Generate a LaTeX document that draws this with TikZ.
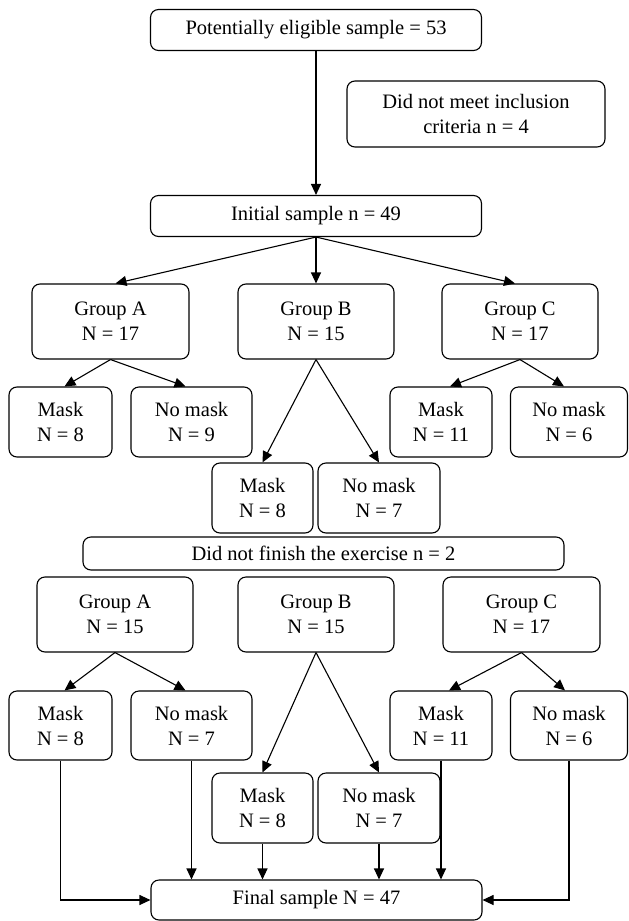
\documentclass[tikz,border=0pt]{standalone}
\usepackage{fontspec}
\setmainfont{Liberation Serif}
\usetikzlibrary{arrows.meta}
\begin{document}
\begin{tikzpicture}[x=1pt,y=-1pt,
  box/.style={draw=black,line width=1.1pt,rounded corners=8pt,align=center,
    inner sep=0pt,font=\fontsize{20.5}{25}\selectfont},
  arr/.style={line width=1.1pt,-{Triangle[length=11pt,width=10pt]}},
  ln/.style={line width=1pt}]
\useasboundingbox (0,0) rectangle (629,921);
\newcommand{\bx}[5]{\node[box,minimum width=#3pt,minimum height=#4pt] (#1) at (#2) {#5};}
\bx{top}{316,30}{331}{41}{Potentially eligible sample = 53}
\bx{excl}{476,114}{258}{66}{Did not meet inclusion\\criteria n = 4}
\bx{init}{316,216}{331}{41}{Initial sample n = 49}
\bx{gA}{110.5,321.5}{157}{75}{Group A\\N = 17}
\bx{gB}{316,321.5}{156}{75}{Group B\\N = 15}
\bx{gC}{520,321.5}{156}{75}{Group C\\N = 17}
\bx{mA}{60.5,422}{103}{70}{Mask\\N = 8}
\bx{nA}{191.5,422}{121}{70}{No mask\\N = 9}
\bx{mC}{441,422}{102}{70}{Mask\\N = 11}
\bx{nC}{569,422}{117}{70}{No mask\\N = 6}
\bx{mB}{262.5,498}{101}{70}{Mask\\N = 8}
\bx{nB}{379,498}{122}{70}{No mask\\N = 7}
\bx{dnf}{323.5,553.5}{481}{33}{Did not finish the exercise n = 2}
\bx{gA2}{115,614.5}{156}{75}{Group A\\N = 15}
\bx{gB2}{316,614.5}{156}{75}{Group B\\N = 15}
\bx{gC2}{521.5,614.5}{157}{75}{Group C\\N = 17}
\bx{mA2}{60.5,725.5}{103}{69}{Mask\\N = 8}
\bx{nA2}{191.5,725.5}{121}{69}{No mask\\N = 7}
\bx{mC2}{441,725.5}{102}{69}{Mask\\N = 11}
\bx{nC2}{569,725.5}{117}{69}{No mask\\N = 6}
\bx{mB2}{262.5,808}{101}{70}{Mask\\N = 8}
\bx{nB2}{379,808}{122}{70}{No mask\\N = 7}
\bx{fin}{316.5,900}{331}{40}{Final sample N = 47}
% arrows
\draw[arr] (top) -- (init);
\draw[arr] (init.south) -- ([xshift=5pt]gA.north);
\draw[arr] (init.south) -- (gB.north);
\draw[arr] (init.south) -- ([xshift=-5pt]gC.north);
\draw[arr] (gA.south) -- ([xshift=4pt]mA.north);
\draw[arr] (gA.south) -- ([xshift=-6pt]nA.north);
\draw[arr] (gB.south) -- (mB.north);
\draw[arr] (gB.south) -- (nB.north);
\draw[arr] (gC.south) -- ([xshift=9pt]mC.north);
\draw[arr] (gC.south) -- ([xshift=-5pt]nC.north);
\draw[arr] (gA2.south) -- ([xshift=4pt]mA2.north);
\draw[arr] (gA2.south) -- ([xshift=-6pt]nA2.north);
\draw[arr] (gB2.south) -- (mB2.north);
\draw[arr] (gB2.south) -- (nB2.north);
\draw[arr] (gC2.south) -- ([xshift=8pt]mC2.north);
\draw[arr] (gC2.south) -- ([xshift=-4pt]nC2.north);
\draw[arr] (mA2.south) |- (fin.west);
\draw[arr] (nC2.south) |- (fin.east);
\draw[arr] (nA2.south) -- (nA2.south |- fin.north);
\draw[arr] (mB2.south) -- (mB2.south |- fin.north);
\draw[arr] (nB2.south) -- (nB2.south |- fin.north);
\draw[arr] (mC2.south) -- (mC2.south |- fin.north);
\end{tikzpicture}
\end{document}
